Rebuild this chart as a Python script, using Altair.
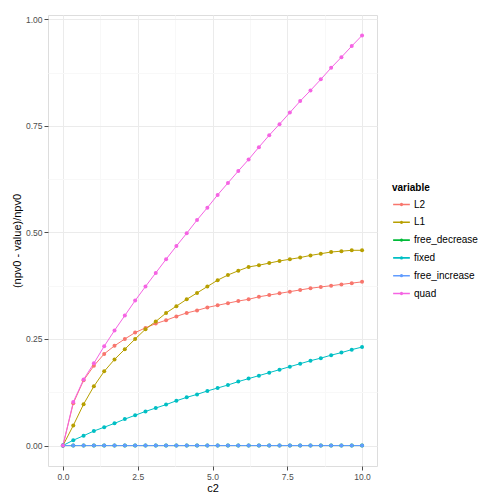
import altair as alt
import pandas as pd

c2 = [0.0, 0.345, 0.690, 1.034, 1.379, 1.724, 2.069, 2.414, 2.759, 3.103,
      3.448, 3.793, 4.138, 4.483, 4.828, 5.172, 5.517, 5.862, 6.207, 6.552,
      6.897, 7.241, 7.586, 7.931, 8.276, 8.621, 8.966, 9.310, 9.655, 10.0]

L2 = [0, 0.099, 0.153, 0.187, 0.215, 0.234, 0.250, 0.265, 0.276, 0.286,
      0.294, 0.303, 0.311, 0.317, 0.324, 0.329, 0.334, 0.339, 0.343, 0.349,
      0.353, 0.357, 0.361, 0.365, 0.369, 0.372, 0.375, 0.378, 0.381, 0.384]
L1 = [0, 0.047, 0.097, 0.139, 0.174, 0.202, 0.226, 0.250, 0.273, 0.291,
      0.311, 0.327, 0.343, 0.358, 0.373, 0.388, 0.400, 0.410, 0.419, 0.423,
      0.428, 0.433, 0.437, 0.441, 0.446, 0.450, 0.454, 0.456, 0.458, 0.458]
free_decrease = [0.0] * 30
fixed = [0, 0.0125, 0.023, 0.034, 0.043, 0.052, 0.062, 0.071, 0.080, 0.088,
         0.096, 0.105, 0.113, 0.120, 0.128, 0.135, 0.142, 0.150, 0.157, 0.164,
         0.171, 0.178, 0.185, 0.192, 0.199, 0.205, 0.212, 0.218, 0.225, 0.231]
free_increase = [0.0] * 30
quad = [0, 0.102, 0.155, 0.193, 0.233, 0.270, 0.305, 0.340, 0.373, 0.405,
        0.437, 0.468, 0.498, 0.529, 0.558, 0.588, 0.616, 0.644, 0.671, 0.700,
        0.728, 0.754, 0.781, 0.808, 0.833, 0.859, 0.886, 0.911, 0.937, 0.962]

variables = ["L2", "L1", "free_decrease", "fixed", "free_increase", "quad"]
colors = ["#F8766D", "#B79F00", "#00BA38", "#00BFC4", "#619CFF", "#F564E3"]
series = [L2, L1, free_decrease, fixed, free_increase, quad]

rows = []
for k, (name, vals) in enumerate(zip(variables, series)):
    for x, y in zip(c2, vals):
        rows.append({"c2": x, "value": y, "variable": name, "k": k})
df = pd.DataFrame(rows)

FONT = "Liberation Sans"
x_ticks = [0, 1.25, 2.5, 3.75, 5, 6.25, 7.5, 8.75, 10]
y_ticks = [0, 0.125, 0.25, 0.375, 0.5, 0.625, 0.75, 0.875, 1.0]

xaxis = alt.Axis(
    values=x_ticks, title="c2",
    labelExpr="datum.value % 2.5 === 0 ? format(datum.value, '.1f') : ''",
    gridColor={"condition": {"test": "datum.value % 2.5 === 0", "value": "#ebebeb"}, "value": "#f8f8f8"},
    tickOpacity={"condition": {"test": "datum.value % 2.5 === 0", "value": 1}, "value": 0},
    domain=False, tickColor="#4d4d4d", tickSize=4, labelPadding=2,
    labelColor="#4d4d4d", labelFontSize=8.5, labelFont=FONT,
    titleFont=FONT, titleFontSize=11, titleFontWeight="normal", titleColor="black",
    titlePadding=2,
)
yaxis = alt.Axis(
    values=y_ticks, title="(npv0 - value)/npv0",
    labelExpr="datum.value % 0.25 === 0 ? format(datum.value, '.2f') : ''",
    gridColor={"condition": {"test": "datum.value % 0.25 === 0", "value": "#ebebeb"}, "value": "#f8f8f8"},
    tickOpacity={"condition": {"test": "datum.value % 0.25 === 0", "value": 1}, "value": 0},
    domain=False, tickColor="#4d4d4d", tickSize=4, labelPadding=2,
    labelColor="#4d4d4d", labelFontSize=8.5, labelFont=FONT,
    titleFont=FONT, titleFontSize=11, titleFontWeight="normal", titleColor="black",
    titlePadding=3,
)

legend_symbol = "M-1,0L1,0M-0.1,0A0.1,0.1,0,1,1,0.1,0A0.1,0.1,0,1,1,-0.1,0"

color = alt.Color(
    "variable:N",
    scale=alt.Scale(domain=variables, range=colors),
    sort=variables,
    legend=alt.Legend(
        title="variable", orient="none", legendX=344, legendY=168,
        titleFont=FONT, titleFontSize=10, titleFontWeight="bold", titleColor="black",
        labelFont=FONT, labelFontSize=10, labelColor="black",
        symbolType=legend_symbol, symbolSize=280, symbolStrokeWidth=1.6,
        rowPadding=2.8, labelOffset=3, titlePadding=2,
    ),
)

base = alt.Chart(df).encode(
    x=alt.X("c2:Q", scale=alt.Scale(domain=[-0.5, 10.5], nice=False, zero=False), axis=xaxis),
    y=alt.Y("value:Q", scale=alt.Scale(domain=[-0.048, 1.010], nice=False, zero=False), axis=yaxis),
    color=color,
)

lines = base.mark_line(strokeWidth=1).encode(detail="variable:N", order="c2:Q")
points = base.mark_circle(size=16, opacity=1)

chart = alt.layer(lines, points).properties(
    width=329, height=451,
    autosize=alt.AutoSizeParams(type="none"),
    padding={"left": 40, "top": 7, "right": 119, "bottom": 30},
).configure_view(stroke="#7f7f7f", strokeWidth=1).configure(background="white")

chart.save("out.html", embed_options={"renderer": "svg", "actions": False})
